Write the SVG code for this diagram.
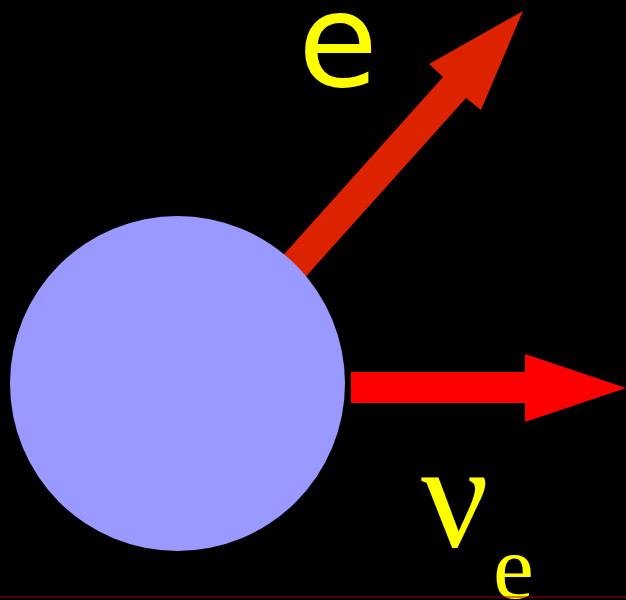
<svg xmlns="http://www.w3.org/2000/svg" width="626" height="600" viewBox="0 0 626 600">
<style>
.lbl{fill:#ffff00}
.sans{font-family:"DejaVu Sans",sans-serif}
.serif{font-family:"Liberation Serif","DejaVu Serif",serif}
</style>
<rect width="626" height="600" fill="#000"/>
<g id="connectors">
<polygon id="arrow-e" fill="#dd2200" points="269,271 443,77 429,64 523,11 481,110 466,98 292,292"/>
<polygon id="arrow-nu" fill="#ff0000" points="351,372 525,372 525,354 626,388 525,422 525,403 351,403"/>
</g>
<g id="nucleus">
<circle cx="177.5" cy="383.5" r="167.5" fill="#9999ff"/>
</g>
<g id="label-e">
<text class="lbl sans" x="298" y="86" font-size="130">e</text>
</g>
<g id="label-nu">
<text class="lbl serif" x="421" y="547" font-size="150">ν</text>
<text class="lbl serif" x="493" y="598" font-size="92">e</text>
</g>
<line x1="0" y1="597" x2="626" y2="597" stroke="#aa0000" stroke-width="1"/>
</svg>
